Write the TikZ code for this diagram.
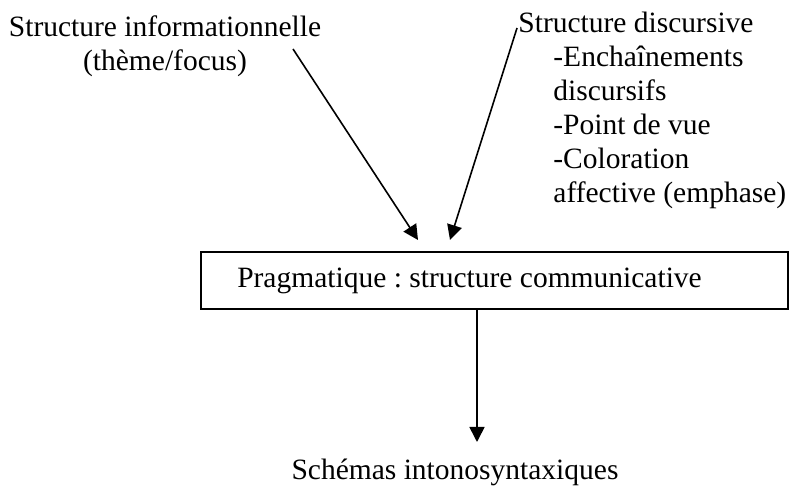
\documentclass[tikz,border=0pt]{standalone}
\usepackage{fontspec}
\setmainfont{Liberation Serif}
\usetikzlibrary{arrows.meta}
\frenchspacing
\newcommand\indline{\hspace*{17.5pt}}
\begin{document}
\begin{tikzpicture}[x=.5pt,y=-.5pt,
  txt/.style={inner sep=0pt,font=\fontsize{14.75}{17}\selectfont},
  arr/.style={line width=.8pt,-{Triangle[length=7.5pt,width=7.5pt]}}]
\useasboundingbox (0,0) rectangle (792,490);

% multi-line nodes sit on the baseline of their last line
\node[txt,align=center,anchor=base] (info) at (165,71) {Structure informationnelle\\(thème/focus)};
\node[txt,align=left,anchor=base west] (disc) at (518,203) {Structure discursive\\
  \indline-Enchaînements\\ \indline discursifs\\ \indline-Point de vue\\
  \indline-Coloration\\ \indline affective (emphase)};

\node[txt,draw,line width=.8pt,minimum width=293.5pt,minimum height=28.5pt] (prag) at (494.5,280.5)
  {Pragmatique : structure communicative\hspace*{25pt}};
\node[txt,anchor=base] (schemas) at (455,480) {Schémas intonosyntaxiques};

\coordinate (infoout) at (293,49);
\coordinate (infoin) at (418,240);
\coordinate (discout) at (517,28);
\coordinate (discin) at (450,240);
\coordinate (schemasin) at (477,442);

\draw[arr] (infoout) -- (infoin);
\draw[arr] (discout) -- (discin);
\draw[arr] (prag.south -| schemasin) -- (schemasin);
\end{tikzpicture}
\end{document}
